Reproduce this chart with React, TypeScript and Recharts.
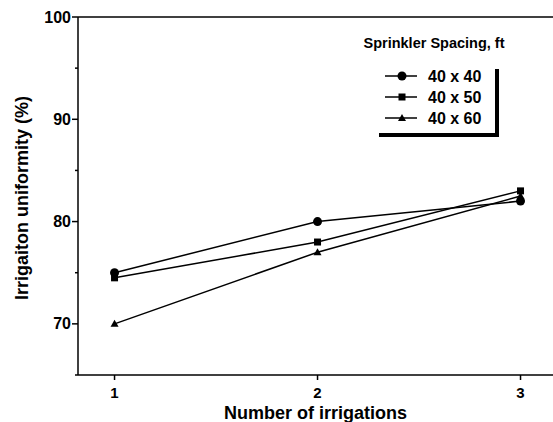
import { LineChart, Line, XAxis, YAxis, ReferenceLine } from "recharts";

const irrigations = [1, 2, 3];
const spacing40x40 = [75, 80, 82];
const spacing40x50 = [74.5, 78, 83];
const spacing40x60 = [70, 77, 82.5];
const seriesNames = ["40 x 40", "40 x 50", "40 x 60"];
const yTicks = [65, 70, 75, 80, 85, 90, 95, 100];
const yLabeled = [70, 80, 90, 100];

const data = irrigations.map((n, i) => ({
  n,
  s40: spacing40x40[i],
  s50: spacing40x50[i],
  s60: spacing40x60[i],
}));

const FONT = "'Liberation Sans', Arial, sans-serif";

type Shape = "circle" | "square" | "triangle";

function marker(shape: Shape, cx: number, cy: number, key?: any) {
  if (shape === "circle") return <circle key={key} cx={cx} cy={cy} r={4.5} fill="#000" />;
  if (shape === "square") return <rect key={key} x={cx - 3.5} y={cy - 3.5} width={7} height={7} fill="#000" />;
  return <path key={key} d={`M${cx},${cy - 4} L${cx + 4},${cy + 3} L${cx - 4},${cy + 3} Z`} fill="#000" />;
}

const dotFor = (shape: Shape) => (props: any) => marker(shape, props.cx, props.cy, props.key ?? `${shape}-${props.index}`);

function YTick(props: any) {
  const { x, y, payload } = props;
  const major = yLabeled.includes(payload.value);
  return (
    <g>
      <line x1={x + 8} x2={x + 8 - (major ? 6 : 3)} y1={y} y2={y} stroke="#000" strokeWidth={1.5} />
      {major && (
        <text x={x + 1} y={y + 5.5} textAnchor="end" fontFamily={FONT} fontWeight="bold" fontSize={16} fill="#000">
          {payload.value}
        </text>
      )}
    </g>
  );
}

function XTick(props: any) {
  const { x, y, payload } = props;
  return (
    <g>
      <line x1={x} x2={x} y1={y - 8} y2={y - 3} stroke="#000" strokeWidth={1.5} />
      <text x={x} y={y + 15} textAnchor="middle" fontFamily={FONT} fontWeight="bold" fontSize={15} fill="#000">
        {payload.value}
      </text>
    </g>
  );
}

const shapes: Shape[] = ["circle", "square", "triangle"];

// legend drawn as an overlay so it doesn't take room from the plot
function LegendBox() {
  return (
    <svg width={170} height={120} style={{ position: "absolute", left: 355, top: 28, overflow: "visible" }}>
      <text x={79} y={20} textAnchor="middle" fontFamily={FONT} fontWeight="bold" fontSize={14.5} fill="#000">
        Sprinkler Spacing, ft
      </text>
      {seriesNames.map((name, i) => {
        const y = 48 + i * 21;
        return (
          <g key={name}>
            <line x1={30} x2={62} y1={y} y2={y} stroke="#000" strokeWidth={1.5} />
            {marker(shapes[i], 47, y)}
            <text x={73} y={y + 5.5} fontFamily={FONT} fontWeight="bold" fontSize={16} fill="#000">
              {name}
            </text>
          </g>
        );
      })}
      <line x1={142} x2={142} y1={41} y2={109} stroke="#000" strokeWidth={4} />
      <line x1={24} x2={144} y1={107} y2={107} stroke="#000" strokeWidth={4} />
    </svg>
  );
}

export default function App() {
  return (
    <div style={{ position: "fixed", left: 0, top: 0, width: 553, height: 422, background: "#fff" }}>
      <LineChart width={553} height={422} data={data} margin={{ top: 17, right: 0, left: 28, bottom: 17 }}>
        <XAxis
          dataKey="n"
          type="number"
          domain={[0.82, 3.16]}
          ticks={irrigations}
          tick={<XTick />}
          tickLine={false}
          axisLine={{ stroke: "#000", strokeWidth: 1.5 }}
          height={30}
          allowDataOverflow
          label={{ value: "Number of irrigations", position: "insideBottom", offset: -14, fontFamily: FONT, fontWeight: "bold", fontSize: 18, fill: "#000" }}
        />
        <YAxis
          type="number"
          domain={[65, 100]}
          ticks={yTicks}
          tick={<YTick />}
          tickLine={false}
          axisLine={{ stroke: "#000", strokeWidth: 1.5 }}
          width={50}
          label={{ value: "Irrigaiton uniformity (%)", angle: -90, position: "insideLeft", offset: -6, dy: 104, fontFamily: FONT, fontWeight: "bold", fontSize: 18, fill: "#000" }}
        />
        <ReferenceLine y={100} stroke="#000" strokeWidth={1.5} />
        <Line dataKey="s40" name={seriesNames[0]} stroke="#000" strokeWidth={1.5} dot={dotFor("circle")} isAnimationActive={false} />
        <Line dataKey="s50" name={seriesNames[1]} stroke="#000" strokeWidth={1.5} dot={dotFor("square")} isAnimationActive={false} />
        <Line dataKey="s60" name={seriesNames[2]} stroke="#000" strokeWidth={1.5} dot={dotFor("triangle")} isAnimationActive={false} />
      </LineChart>
      <LegendBox />
    </div>
  );
}
